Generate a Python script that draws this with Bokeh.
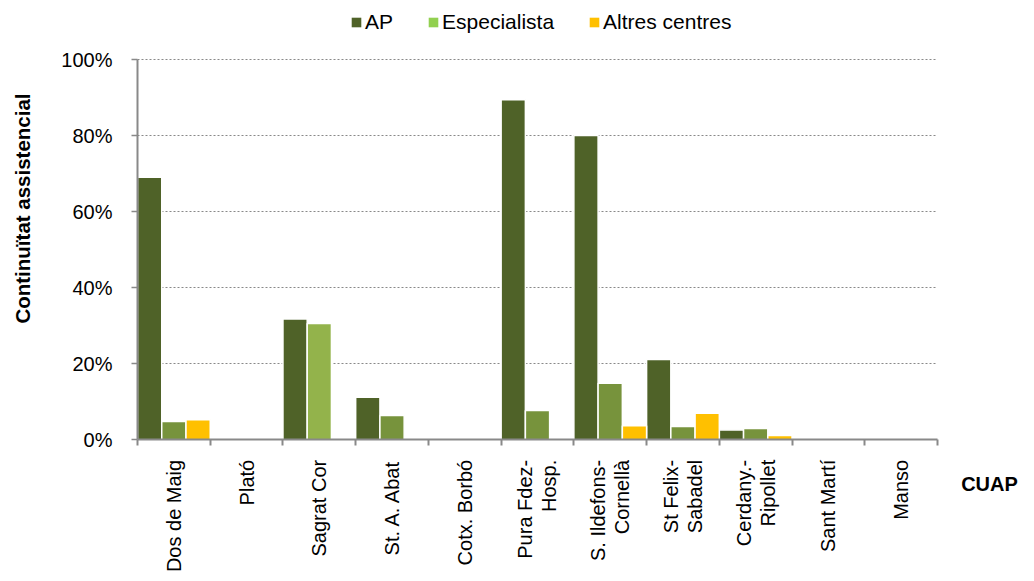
import math
from bokeh.plotting import figure
from bokeh.models import (ColumnDataSource, Range1d, FixedTicker, NumeralTickFormatter,
                          Legend, LegendItem, Label, LinearAxis)
from bokeh.transform import dodge
from bokeh.embed import file_html
from bokeh.resources import INLINE

categories = ["Dos de Maig", "Plató", "Sagrat Cor", "St. A. Abat", "Cotx. Borbó",
              "Pura Fdez-\nHosp.", "S. Ildefons-\nCornellà", "St Felix-\nSabadel",
              "Cerdany.-\nRipollet", "Sant Martí", "Manso"]
ap = [0.691, 0.0, 0.318, 0.112, 0.0, 0.895, 0.801, 0.211, 0.026, 0.0, 0.0]
especialista = [0.048, 0.0, 0.306, 0.064, 0.0, 0.077, 0.149, 0.035, 0.030, 0.0, 0.0]
altres = [0.053, 0.0, 0.0, 0.0, 0.0, 0.0, 0.037, 0.070, 0.011, 0.0, 0.0]
series_names = ["AP", "Especialista", "Altres centres"]
y_ticks = [0.0, 0.2, 0.4, 0.6, 0.8, 1.0]
y_title = "Continuïtat assistencial"
x_title = "CUAP"

C_AP = "#4F6228"
C_ESP = "#77933C"
C_ESP_LIGHT = "#93B34B"
C_ALT = "#FFC000"
LEG_ESP = "#92D050"
esp_colors = [C_ESP_LIGHT if c == "Sagrat Cor" else C_ESP for c in categories]

FONT = "Liberation Sans"
AXIS_GRAY = "#898989"

# canvas / plot-area layout (pixels)
W, H = 1018, 573
PA_LEFT, PA_RIGHT, PA_TOP, PA_BOTTOM = 137.0, 937.0, 59.3, 439.3
LINE_GAP_PX = 12.0  # half distance between the two lines of a wrapped tick label

# approximate Arial advance widths (1/1000 em) used to end-align rotated tick labels
_W = {" ": 278, "\u00a0": 278, ".": 278, "-": 333, "A": 667, "B": 667, "C": 722, "D": 722,
      "F": 611, "H": 722, "I": 278, "M": 833, "P": 667, "R": 722, "S": 667,
      "a": 556, "b": 556, "c": 500, "d": 556, "e": 556, "f": 278, "g": 556, "i": 222,
      "l": 222, "n": 556, "o": 556, "p": 556, "r": 333, "s": 500, "t": 278, "u": 556,
      "x": 500, "y": 500, "z": 500, "à": 556, "í": 278, "ó": 556}


def _width(s):
    return sum(_W.get(ch, 556) for ch in s)


_maxw = max(_width(ln) for c in categories for ln in c.split("\n"))


def _pad(line):
    return "\u00a0" * int(round((_maxw - _width(line)) / 278.0)) + line


n = len(categories)
centers = [i + 0.5 for i in range(n)]
src = ColumnDataSource(dict(x=centers, ap=ap, esp=especialista, alt=altres, esp_color=esp_colors))

# ranges chosen so that [0, n] x [0, 1] maps onto the plot area while the frame fills the canvas
xpx = (PA_RIGHT - PA_LEFT) / n
ypx = (PA_BOTTOM - PA_TOP) / 1.0
x_range = Range1d(-PA_LEFT / xpx, n + (W - PA_RIGHT) / xpx)
y_range = Range1d(-(H - PA_BOTTOM) / ypx, 1.0 + PA_TOP / ypx)

p = figure(width=W, height=H, output_backend="svg", toolbar_location=None,
           x_range=x_range, y_range=y_range,
           min_border=0, min_border_left=0, min_border_right=0,
           min_border_top=0, min_border_bottom=0)
p.outline_line_color = None
p.background_fill_color = "white"

w = 1.0 / 3
p.vbar(x=dodge("x", -w, range=p.x_range), top="ap", width=w, source=src,
       fill_color=C_AP, line_color="white", line_width=1.5)
p.vbar(x="x", top="esp", width=w, source=src,
       fill_color="esp_color", line_color="white", line_width=1.5)
p.vbar(x=dodge("x", w, range=p.x_range), top="alt", width=w, source=src,
       fill_color=C_ALT, line_color="white", line_width=1.5)

# legend proxies: zero-size bars that only lend their colours to the legend
l1 = p.vbar(x="x", top=0, bottom=0, width=0, source=src, fill_color=C_AP, line_color=None)
l2 = p.vbar(x="x", top=0, bottom=0, width=0, source=src, fill_color=LEG_ESP, line_color=None)
l3 = p.vbar(x="x", top=0, bottom=0, width=0, source=src, fill_color=C_ALT, line_color=None)
legend = Legend(items=[LegendItem(label=series_names[0], renderers=[l1], index=0),
                       LegendItem(label=series_names[1], renderers=[l2], index=0),
                       LegendItem(label=series_names[2], renderers=[l3], index=0)],
                orientation="horizontal", location=(350, H - 34),
                padding=0, margin=0, spacing=34, label_standoff=3,
                glyph_width=12, glyph_height=12,
                border_line_color=None, background_fill_alpha=0,
                label_text_font=FONT, label_text_font_size="21px", label_text_color="black")
p.add_layout(legend, "center")

p.add_layout(Label(x=989, y=H - 483, x_units="screen", y_units="screen", text=x_title,
                   text_font=FONT, text_font_style="bold", text_font_size="20px",
                   text_color="black", text_align="center", text_baseline="middle"))
p.add_layout(Label(x=22, y=H - 208, x_units="screen", y_units="screen", text=y_title,
                   angle=math.pi / 2,
                   text_font=FONT, text_font_style="bold", text_font_size="20.5px",
                   text_color="black", text_align="center", text_baseline="middle"))

# tick-label lines: wrapped labels get one line per axis, offset left / right of the centre
d = LINE_GAP_PX / xpx
first_ticks, first_labels, second_ticks, second_labels = [], [], [], []
for c, lab in zip(centers, categories):
    parts = lab.split("\n")
    if len(parts) == 1:
        first_ticks.append(c)
        first_labels.append(_pad(parts[0]))
    else:
        first_ticks.append(c - d)
        first_labels.append(_pad(parts[0]))
        second_ticks.append(c + d)
        second_labels.append(_pad(parts[1]))


def _style_labels(ax):
    ax.fixed_location = 0
    ax.major_label_orientation = math.pi / 2
    ax.major_tick_line_color = None
    ax.major_tick_out = 6
    ax.major_label_text_font = FONT
    ax.major_label_text_font_size = "20px"
    ax.major_label_text_color = "black"
    ax.major_label_standoff = 14


# x axis
xa = p.xaxis[0]
_style_labels(xa)
xa.bounds = (0, n)
xa.ticker = FixedTicker(ticks=first_ticks, minor_ticks=list(range(n + 1)))
xa.major_label_overrides = dict(zip(first_ticks, first_labels))
xa.minor_tick_line_color = AXIS_GRAY
xa.minor_tick_line_width = 2
xa.minor_tick_out = 6
xa.minor_tick_in = 0
xa.axis_line_color = AXIS_GRAY
xa.axis_line_width = 2

xa2 = LinearAxis(ticker=FixedTicker(ticks=second_ticks),
                 major_label_overrides=dict(zip(second_ticks, second_labels)),
                 axis_line_color=None, minor_tick_line_color=None)
_style_labels(xa2)
p.add_layout(xa2, "below")

# y axis
ya = p.yaxis[0]
ya.fixed_location = 0
ya.bounds = (0, 1)
ya.ticker = FixedTicker(ticks=y_ticks)
ya.formatter = NumeralTickFormatter(format="0%")
ya.major_tick_line_color = AXIS_GRAY
ya.major_tick_line_width = 1.5
ya.major_tick_out = 6
ya.major_tick_in = 0
ya.minor_tick_line_color = None
ya.axis_line_color = AXIS_GRAY
ya.axis_line_width = 2
ya.major_label_text_font = FONT
ya.major_label_text_font_size = "20px"
ya.major_label_text_color = "black"
ya.major_label_standoff = 19

p.xgrid.visible = False
yg = p.ygrid[0]
yg.ticker = FixedTicker(ticks=y_ticks[1:])
yg.grid_line_color = AXIS_GRAY
yg.grid_line_dash = "2 2"
yg.grid_line_width = 1
if "cross_bounds" in yg.properties():
    yg.cross_bounds = (0, n)
else:
    yg.visible = False
    p.multi_line(xs=[[0, n] for _ in y_ticks[1:]], ys=[[t, t] for t in y_ticks[1:]],
                 line_color=AXIS_GRAY, line_dash="2 2", line_width=1)

open("out.html", "w").write(file_html(p, INLINE))
